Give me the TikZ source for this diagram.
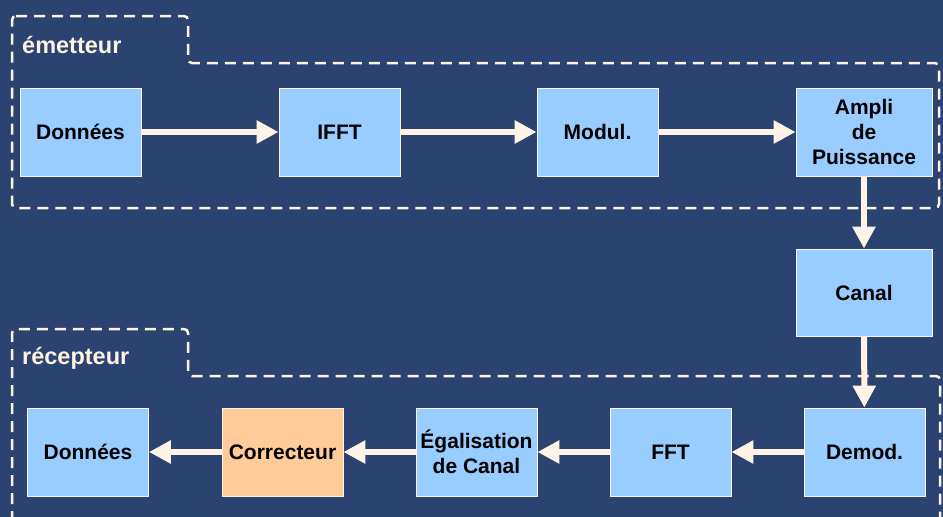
\documentclass[tikz,border=0pt]{standalone}
\usepackage{fontspec}
\setmainfont{Liberation Sans}
\usepackage{xcolor}
\usetikzlibrary{arrows.meta}

\definecolor{bgblue}{HTML}{2A4371}
\definecolor{boxblue}{HTML}{99CCFF}
\definecolor{boxorange}{HTML}{FFCC99}
\definecolor{cream}{HTML}{FFF3E6}

\begin{document}
\begin{tikzpicture}[
    x=1pt, y=-1pt,
    every node/.style={align=center, font=\bfseries\fontsize{21}{25}\selectfont},
    block/.style={rectangle, draw=cream, line width=0.8pt, fill=boxblue, minimum width=121pt, minimum height=88pt, inner sep=0pt},
    wide/.style={block, minimum width=136pt},
    arrow/.style={-{Triangle[length=22pt, width=22pt]}, line width=6pt, draw=cream},
    frame/.style={draw=cream, line width=2.5pt, dash pattern=on 11pt off 7pt, rounded corners=4pt},
    zone/.style={font=\bfseries\fontsize{23.5}{27}\selectfont, text=cream, anchor=base west, inner sep=0pt}
]

% background
\path[use as bounding box, clip] (0,0) rectangle (943,517);
\fill[bgblue] (0,0) rectangle (943,517);

% emetteur
\draw[frame] (12,16) -- (188,16) -- (188,63) -- (939,63) -- (939,208) -- (12,208) -- cycle;
\node[zone] (txlabel) at (22,53) {émetteur};

\node[block] (dataTx) at (80.5,132) {Données};
\node[block] (ifft) at (339.5,132) {IFFT};
\node[block] (modul) at (597.5,132) {Modul.};
\node[wide] (ampli) at (864,132) {Ampli\\de\\Puissance};

\draw[arrow] (dataTx) -- (ifft);
\draw[arrow] (ifft) -- (modul);
\draw[arrow] (modul) -- (ampli);

% canal
\node[wide, minimum height=87pt] (canal) at (864,292.5) {Canal};
\draw[arrow] (ampli) -- (canal);

% recepteur
\draw[frame] (12,540) -- (12,329) -- (188,329) -- (188,376) -- (940,376) -- (940,540);
\node[zone] (rxlabel) at (22,364) {récepteur};

\node[block] (demod) at (864.5,452) {Demod.};
\node[block] (fft) at (670.5,452) {FFT};
\node[block] (egal) at (476.5,452) {Égalisation\\de Canal};
\node[block, fill=boxorange] (correct) at (282.5,452) {Correcteur};
\node[block] (dataRx) at (88,452) {Données};

\draw[arrow] (canal) -- (demod);
\draw[arrow] (demod) -- (fft);
\draw[arrow] (fft) -- (egal);
\draw[arrow] (egal) -- (correct);
\draw[arrow] (correct) -- (dataRx);

\end{tikzpicture}
\end{document}
